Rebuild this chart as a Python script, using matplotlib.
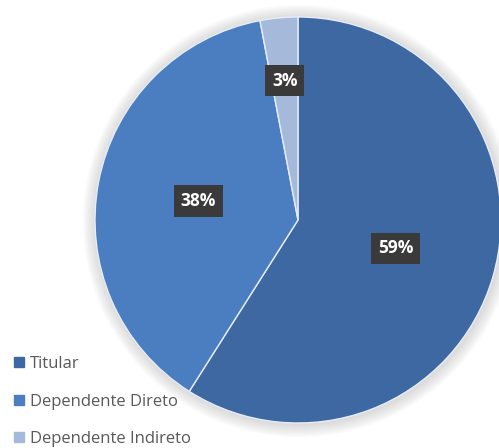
import matplotlib.pyplot as plt
from matplotlib.lines import Line2D
from matplotlib.patches import Circle
import numpy as np

labels = ["Titular", "Dependente Direto", "Dependente Indireto"]
values = [59, 38, 3]
colors = ["#3d68a2", "#4a7ec0", "#a5b9db"]
label_dist = [0.5, 0.5, 0.69]

plt.rcParams["font.family"] = ["Open Sans", "DejaVu Sans"]

fig = plt.figure(figsize=(4.99, 4.48), dpi=100)
ax = fig.add_axes([0, 0, 1, 1])

# soft glow around the pie
for k in range(8):
    ax.add_patch(Circle((0.005, -0.005), 1.0 + 0.008 * (k + 1), color="#7f7f7f",
                        alpha=0.035, lw=0, zorder=0))

wedges, _ = ax.pie(values, colors=colors, startangle=90, counterclock=False,
                   wedgeprops=dict(edgecolor="#e6edf7", linewidth=1.0))

# percentage labels in dark boxes
theta = 90
for v, d in zip(values, label_dist):
    span = v / sum(values) * 360
    mid = np.deg2rad(theta - span / 2)
    theta -= span
    ax.text(d * np.cos(mid), d * np.sin(mid), f"{v}%", ha="center", va="center",
            color="white", fontsize=12.5, fontweight="bold", zorder=5,
            bbox=dict(boxstyle="square,pad=0.38", fc="#3a3a3a", ec="none"))

# pixel layout: center (298, 220) from top-left, radius 203 px
r_px = 203
ax.set_aspect("auto")
ax.set_xlim(-298 / r_px, (499 - 298) / r_px)
ax.set_ylim(-(448 - 220) / r_px, 220 / r_px)
ax.axis("off")

handles = [Line2D([], [], marker="s", linestyle="none", markersize=6.5,
                  markerfacecolor=c, markeredgecolor=c) for c in colors]
leg = fig.legend(handles, labels, loc="lower left", bbox_to_anchor=(0.0, -0.028),
                 frameon=False, fontsize=12, labelspacing=1.3, handlelength=0.7,
                 handletextpad=0.3, borderpad=0.3)
for t in leg.get_texts():
    t.set_color("#595959")

fig.savefig("out.png", dpi=100, facecolor="white")
